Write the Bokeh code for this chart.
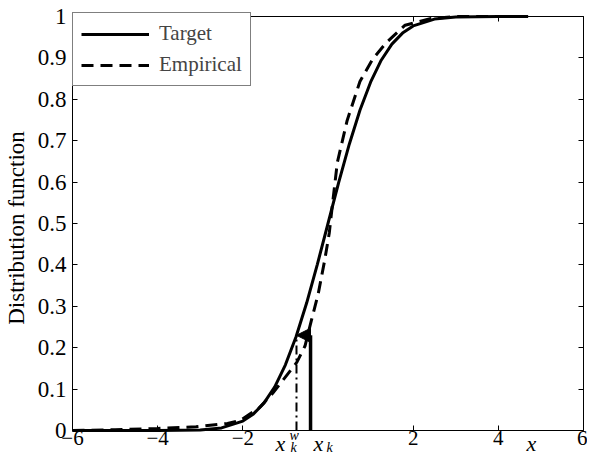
from bokeh.plotting import figure
from bokeh.models import (Range1d, FixedTicker, Legend, LegendItem, Arrow, NormalHead,
                          LinearAxis)
from bokeh.core.properties import value
from bokeh.embed import file_html
from bokeh.resources import INLINE

# ---- data ----
target_x = [-6, -5, -4, -3, -2.5, -2, -1.75, -1.5, -1.25, -1, -0.75, -0.5, -0.25, 0,
            0.25, 0.5, 0.75, 1, 1.25, 1.5, 1.75, 2, 2.5, 3, 4, 4.7]
target_y = [0, 0, 0.00003, 0.0013, 0.0062, 0.0228, 0.0401, 0.0668, 0.1056, 0.1587, 0.2266,
            0.3085, 0.4013, 0.5, 0.5987, 0.6915, 0.7734, 0.8413, 0.8944, 0.9332, 0.9599,
            0.9772, 0.9938, 0.9987, 1.0, 1.0]

emp_x = [-6, -5, -4, -3.1, -2.36, -2.05, -1.6, -1.3, -1.07, -0.73, -0.54, -0.39, -0.23,
         -0.08, 0.03, 0.12, 0.22, 0.45, 0.75, 1.05, 1.36, 1.81, 2.42, 3.0, 4.7]
emp_y = [0.0, 0.002, 0.005, 0.009, 0.017, 0.025, 0.056, 0.09, 0.12, 0.165, 0.204, 0.266,
         0.33, 0.41, 0.477, 0.56, 0.648, 0.749, 0.843, 0.897, 0.936, 0.979, 0.995, 1.0, 1.0]

xk_w = -0.74      # x_k^w
xk = -0.41        # x_k
Fk = 0.23         # level of the arrow
x_name_pos = 4.8  # where the "x" axis name sits

x_lo, x_hi = -6, 6
y_lo, y_hi = 0, 1
x_ticks = [-6, -4, -2, 2, 4, 6]
x_tick_labels = ["\u22126", "\u22124", "\u22122", "2", "4", "6"]
y_ticks = [0, 0.1, 0.2, 0.3, 0.4, 0.5, 0.6, 0.7, 0.8, 0.9, 1.0]
y_tick_labels = ["0", "0.1", "0.2", "0.3", "0.4", "0.5", "0.6", "0.7", "0.8", "0.9", "1"]

FONT = "Liberation Serif"

# ---- layout (pixels) ----
W, H = 587, 455
PAD_L, PAD_R, PAD_T, PAD_B = 72, 4, 16, 25       # box position inside the canvas
sx = (W - PAD_L - PAD_R) / (x_hi - x_lo)
sy = (H - PAD_T - PAD_B) / (y_hi - y_lo)

p = figure(width=W, height=H, output_backend="svg", toolbar_location=None,
           x_range=Range1d(x_lo - PAD_L / sx, x_hi + PAD_R / sx),
           y_range=Range1d(y_lo - PAD_B / sy, y_hi + PAD_T / sy),
           min_border=0, x_axis_location=None, y_axis_location=None)
p.background_fill_color = "white"
p.border_fill_color = "white"
p.outline_line_color = None
p.xgrid.visible = False
p.ygrid.visible = False

def style_axis(ax, labels=True):
    ax.axis_line_color = None
    ax.major_tick_in = 5
    ax.major_tick_out = 0
    ax.major_tick_line_color = "black"
    ax.minor_tick_line_color = None
    ax.major_label_text_font = FONT
    ax.major_label_text_font_size = "22px" if labels else "0px"
    ax.major_label_text_color = "black"

xb = LinearAxis(fixed_location=y_lo, ticker=FixedTicker(ticks=x_ticks))
style_axis(xb)
xb.major_label_text_font_size = "21px"
xb.major_label_overrides = {t: l for t, l in zip(x_ticks, x_tick_labels)}
xb.major_label_standoff = 0
p.add_layout(xb, "below")

yl = LinearAxis(fixed_location=x_lo, ticker=FixedTicker(ticks=y_ticks))
style_axis(yl)
yl.major_label_text_font_size = "23px"
yl.major_label_overrides = {t: l for t, l in zip(y_ticks, y_tick_labels)}
yl.major_label_standoff = 6
yl.axis_label = "Distribution function"
yl.axis_label_text_font = FONT
yl.axis_label_text_font_size = "23px"
yl.axis_label_text_font_style = "normal"
yl.axis_label_text_color = "black"
yl.axis_label_standoff = 6
p.add_layout(yl, "left")

xt = LinearAxis(fixed_location=y_hi, ticker=FixedTicker(ticks=x_ticks))
style_axis(xt, labels=False)
xt.major_label_overrides = {t: "" for t in x_ticks}
p.add_layout(xt, "above")

yr = LinearAxis(fixed_location=x_hi, ticker=FixedTicker(ticks=y_ticks))
style_axis(yr, labels=False)
yr.major_label_overrides = {t: "" for t in y_ticks}
p.add_layout(yr, "right")

# box
p.quad(left=[x_lo], right=[x_hi], bottom=[y_lo], top=[y_hi], fill_color=None,
       line_color="black", line_width=1)

r_target = p.line(target_x, target_y, line_color="black", line_width=3)
r_emp = p.line(emp_x, emp_y, line_color="black", line_width=3, line_dash="12 7")

# vertical markers
p.line([xk_w, xk_w], [0, Fk], line_color="black", line_width=2, line_dash="9 4 2 4")
p.line([xk, xk], [0, Fk], line_color="black", line_width=3.5)
p.add_layout(Arrow(end=NormalHead(size=14, fill_color="black", line_color="black"),
                   x_start=xk, y_start=Fk, x_end=xk_w, y_end=Fk,
                   line_color="black", line_width=2))

# x-axis special labels (italic math-style letters)
def lab(x, text, xo, yo, size):
    p.text(x=[x], y=[y_lo], text=[text], x_offset=xo, y_offset=yo,
           text_font=value(FONT), text_font_style="italic", text_font_size=size,
           text_color="black", text_baseline="alphabetic", text_align="left")

lab(xk_w, "x", -21, 13, "22px")
lab(xk_w, "w", -7, 5, "14px")
lab(xk_w, "k", -6, 17, "14px")
lab(xk, "x", 3, 13, "22px")
lab(xk, "k", 16, 17, "14px")
lab(x_name_pos, "x", -6, 13, "22px")

LEG_H = 70
legend = Legend(items=[LegendItem(label="Target", renderers=[r_target]),
                       LegendItem(label="Empirical", renderers=[r_emp])],
                location=(PAD_L, H - PAD_T - LEG_H), margin=0, padding=8, spacing=6,
                glyph_width=68, glyph_height=24, label_height=24, label_standoff=10,
                label_text_font=FONT, label_text_font_size="21px",
                border_line_color="black", border_line_width=1,
                background_fill_color="white", background_fill_alpha=1.0)
p.add_layout(legend)

open("out.html", "w").write(file_html(p, INLINE))
